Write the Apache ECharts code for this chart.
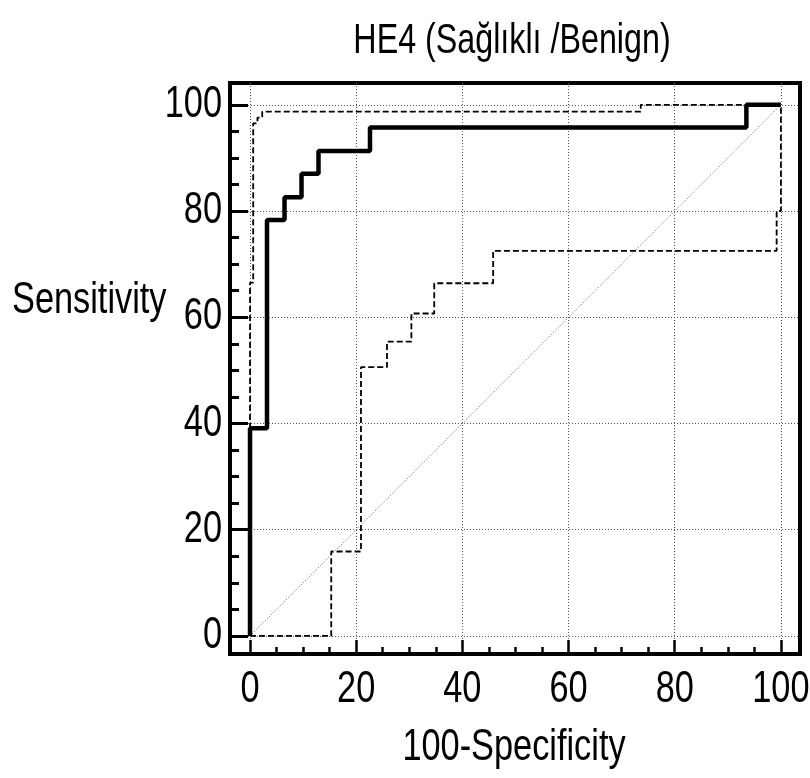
<!DOCTYPE html>
<html>
<head>
<meta charset="utf-8">
<script src="https://cdn.jsdelivr.net/npm/echarts@6/dist/echarts.min.js"></script>
<style>
  html, body { margin: 0; padding: 0; background: #fff; }
  #roc { width: 810px; height: 778px; }
</style>
</head>
<body>
<div id="roc"></div>
<script>
// ROC noktaları (100-Specificity, Sensitivity)
var rocX = [0, 0, 3.2, 6.5, 9.7, 12.9, 22.6, 93.5, 100];
var rocY = [0, 39.1, 78.3, 82.6, 87.0, 91.3, 95.7, 100, 100];

// güven aralığı - üst sınır
var upperX = [0, 0, 0.6, 1.4, 2.3, 73.6, 100];
var upperY = [0, 66.5, 96.5, 97.6, 98.7, 100, 100];

// güven aralığı - alt sınır
var lowerX = [0, 15.3, 20.9, 25.8, 30.4, 34.7, 45.8, 99.2, 100];
var lowerY = [0, 15.9, 50.6, 55.4, 60.7, 66.4, 72.5, 80.0, 100];

// referans çizgisi
var diagX = [0, 100];
var diagY = [0, 100];

var majorTicks = [0, 20, 40, 60, 80, 100];
var minorTicks = [0, 5, 10, 15, 20, 25, 30, 35, 40, 45, 50, 55, 60, 65, 70, 75, 80, 85, 90, 95, 100];

var titleText = 'HE4 (Sağlıklı /Benign)';
var xName = '100-Specificity';
var yName = 'Sensitivity';

// dar yazı tipi yok, Liberation Sans yatayda sıkıştırılıyor
var fontName = "'Liberation Sans', Arial, sans-serif";
var squeeze = 0.78;

function pairs(xs, ys) {
  return xs.map(function (x, i) { return [x, ys[i]]; });
}

function txt(text, x, y, align, size, sx) {
  return {
    type: 'text',
    x: x,
    y: y,
    scaleX: sx || squeeze,
    silent: true,
    style: { text: text, font: size + 'px ' + fontName, fill: '#000', align: align, verticalAlign: 'middle' }
  };
}

var myChart = echarts.init(document.getElementById('roc'));

var gridLine = { show: true, lineStyle: { color: '#555', width: 1, type: [1, 2] } };
var noLine = { show: false, onZero: false };

var option = {
  animation: false,
  backgroundColor: '#fff',
  grid: {
    left: 230,
    right: 10,
    top: 83,
    bottom: 124,
    show: true,
    borderColor: '#000',
    borderWidth: 4,
    backgroundColor: 'transparent'
  },
  xAxis: [
    {
      type: 'value',
      min: -3.77,
      max: 103.6,
      position: 'bottom',
      axisLine: noLine,
      axisTick: { inside: true, length: 14, customValues: majorTicks, lineStyle: { color: '#000', width: 2.5 } },
      axisLabel: { show: false },
      splitLine: gridLine
    },
    {
      type: 'value',
      min: -3.77,
      max: 103.6,
      position: 'bottom',
      axisLine: noLine,
      axisTick: { inside: true, length: 7, customValues: minorTicks, lineStyle: { color: '#000', width: 2.5 } },
      axisLabel: { show: false },
      splitLine: { show: false }
    }
  ],
  yAxis: [
    {
      type: 'value',
      min: -3.4,
      max: 104.1,
      position: 'left',
      axisLine: noLine,
      axisTick: { inside: true, length: 18, customValues: majorTicks, lineStyle: { color: '#000', width: 3 } },
      axisLabel: { show: false },
      splitLine: gridLine
    },
    {
      type: 'value',
      min: -3.4,
      max: 104.1,
      position: 'left',
      axisLine: noLine,
      axisTick: { inside: true, length: 9, customValues: minorTicks, lineStyle: { color: '#000', width: 3 } },
      axisLabel: { show: false },
      splitLine: { show: false }
    }
  ],
  series: [
    {
      name: 'diag',
      type: 'line',
      data: pairs(diagX, diagY),
      symbol: 'none',
      lineStyle: { color: '#555', width: 1, type: [1, 2] },
      z: 2
    },
    {
      name: 'upper',
      type: 'line',
      step: 'end',
      data: pairs(upperX, upperY),
      symbol: 'none',
      lineStyle: { color: '#000', width: 1.8, type: [6, 3] },
      z: 3
    },
    {
      name: 'lower',
      type: 'line',
      step: 'end',
      data: pairs(lowerX, lowerY),
      symbol: 'none',
      lineStyle: { color: '#000', width: 1.8, type: [6, 3] },
      z: 3
    },
    {
      name: 'HE4',
      type: 'line',
      step: 'end',
      data: pairs(rocX, rocY),
      symbol: 'none',
      lineStyle: { color: '#000', width: 4.5 },
      z: 4
    }
  ]
};

myChart.setOption(option);

// eksen yazıları ölçekten alınan konumlara yerleştiriliyor
var texts = [
  txt(titleText, 512, 41, 'center', 43, 0.75),
  txt(yName, 12, 301, 'left', 44),
  txt(xName, 514, 748, 'center', 44)
];
majorTicks.forEach(function (v) {
  texts.push(txt(String(v), myChart.convertToPixel({ xAxisIndex: 0 }, v), 690, 'center', 44));
  texts.push(txt(String(v), 222, myChart.convertToPixel({ yAxisIndex: 0 }, v), 'right', 44));
});
myChart.setOption({ graphic: texts });
</script>
</body>
</html>
